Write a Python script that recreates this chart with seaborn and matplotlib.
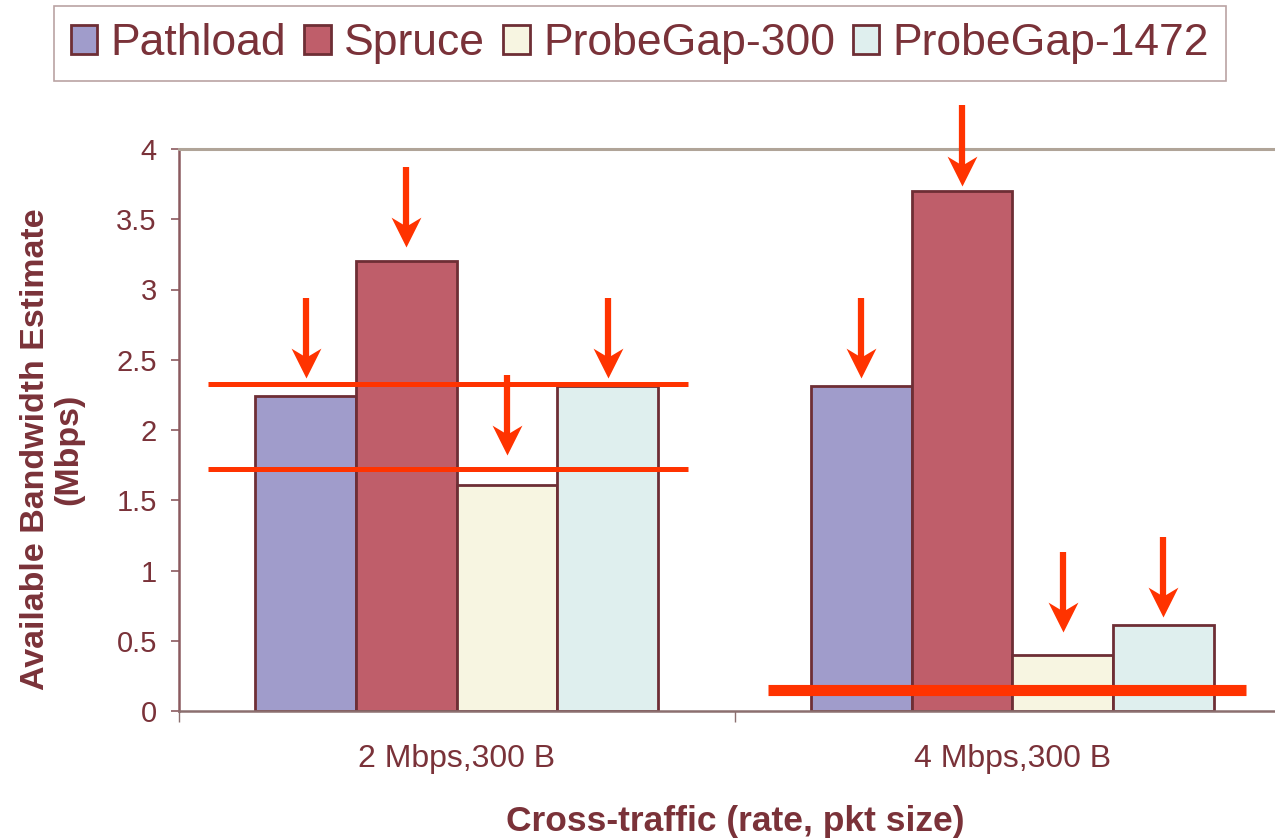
import numpy as np
import pandas as pd
import matplotlib
matplotlib.use("Agg")
import matplotlib.pyplot as plt
from matplotlib.patches import Patch
from matplotlib.path import Path
import seaborn as sns

# ---- data ----
categories = ["2 Mbps,300 B", "4 Mbps,300 B"]
tools = ["Pathload", "Spruce", "ProbeGap-300", "ProbeGap-1472"]
pathload = [2.24, 2.31]
spruce = [3.20, 3.70]
probegap300 = [1.61, 0.40]
probegap1472 = [2.31, 0.61]
# arrow tips (value the arrow points at) per tool, per category
arrow_tips = {
    "Pathload": [2.37, 2.37],
    "Spruce": [3.30, 3.74],
    "ProbeGap-300": [1.82, 0.56],
    "ProbeGap-1472": [2.37, 0.67],
}
arrow_len = 0.57
# reference lines: (level, x-start, x-end in category units, linewidth)
ref_levels = [2.33, 1.72, 0.15]
ref_x0 = [-0.448, -0.448, 0.56]
ref_x1 = [0.416, 0.416, 1.42]
ref_lw = [3.6, 3.6, 8.0]
yticks = [0, 0.5, 1, 1.5, 2, 2.5, 3, 3.5, 4]
ytick_labels = ["0", "0.5", "1", "1.5", "2", "2.5", "3", "3.5", "4"]

colors = ["#A09CCB", "#BF5E6A", "#F7F5E1", "#DFEFEE"]
edge = "#6E2E35"
txt = "#7A3239"
red = "#FF3300"

df = pd.DataFrame({
    "traffic": categories * 4,
    "tool": [t for t in tools for _ in categories],
    "value": pathload + spruce + probegap300 + probegap1472,
})

sns.set_theme(style="white")
plt.rcParams["font.family"] = ["Liberation Sans", "DejaVu Sans"]

fig = plt.figure(figsize=(12.75, 8.39), dpi=100)
W, H = 1275, 839
left, right, top, bottom = 179, 1290, 149, 711
ax = fig.add_axes([left / W, 1 - bottom / H, (right - left) / W, (bottom - top) / H])

sns.barplot(data=df, x="traffic", y="value", hue="tool", hue_order=tools,
            order=categories, palette=colors, saturation=1, width=0.725, gap=0,
            edgecolor=edge, linewidth=2, legend=False, ax=ax, zorder=2)

ax.set_xlim(-0.5, 1.5)
ax.set_ylim(0, 4)
ax.set_yticks(yticks)
ax.set_yticklabels(ytick_labels)
ax.set_xlabel("")
ax.set_ylabel("")

ax.spines["right"].set_visible(False)
ax.spines["top"].set_color("#B0A498")
ax.spines["top"].set_linewidth(2.2)
ax.spines["left"].set_color("#8B5A5F")
ax.spines["left"].set_linewidth(1.8)
ax.spines["bottom"].set_color("#8B6F6F")
ax.spines["bottom"].set_linewidth(1.8)

ax.tick_params(axis="y", direction="out", length=6, width=1.2, color="#8B5A5F",
               labelsize=21, labelcolor=txt, pad=10, left=True)
ax.tick_params(axis="x", which="major", length=0, labelsize=23, labelcolor=txt, pad=24)
ax.set_xticks([-0.5, 0.5], minor=True)
ax.tick_params(axis="x", which="minor", direction="out", length=8, width=1,
               color="#8B6F6F", bottom=True)

# reference lines
for lv, x0, x1, lw in zip(ref_levels, ref_x0, ref_x1, ref_lw):
    ax.plot([x0, x1], [lv, lv], color=red, lw=lw, solid_capstyle="butt", zorder=4)

# arrows
head = Path([(0, 0), (-0.5, 1.0), (0, 0.7), (0.5, 1.0), (0, 0)],
            [Path.MOVETO, Path.LINETO, Path.LINETO, Path.LINETO, Path.CLOSEPOLY])
for container, tool in zip(ax.containers, tools):
    for bar, tip in zip(container.patches, arrow_tips[tool]):
        xc = bar.get_x() + bar.get_width() / 2
        ax.plot([xc, xc], [tip + 0.12, tip + arrow_len], color=red, lw=4.5,
                solid_capstyle="butt", clip_on=False, zorder=5)
        ax.plot([xc], [tip], marker=head, markersize=43, color=red,
                markeredgewidth=0, clip_on=False, zorder=5)

# legend
handles = [Patch(facecolor=c, edgecolor=edge, linewidth=2) for c in colors]
leg = fig.legend(handles, tools, loc="center", bbox_to_anchor=(0.502, 0.948), ncol=4,
                 fontsize=32, handlelength=0.6, handleheight=0.6, handletextpad=0.3,
                 columnspacing=0.4, borderpad=0.38, fancybox=False, frameon=True)
leg.get_frame().set_edgecolor("#A98C8C")
leg.get_frame().set_linewidth(1.2)
for t in leg.get_texts():
    t.set_color(txt)

fig.text(735 / W, 1 - 822 / H, "Cross-traffic (rate, pkt size)", ha="center", va="center",
         fontsize=25.5, fontweight="bold", color=txt)
fig.text(52 / W, 1 - 449 / H, "Available Bandwidth Estimate\n(Mbps)", ha="center",
         va="center", rotation=90, fontsize=24.5, fontweight="bold", color=txt,
         linespacing=1.1, multialignment="center")

fig.savefig("out.png", dpi=100)
